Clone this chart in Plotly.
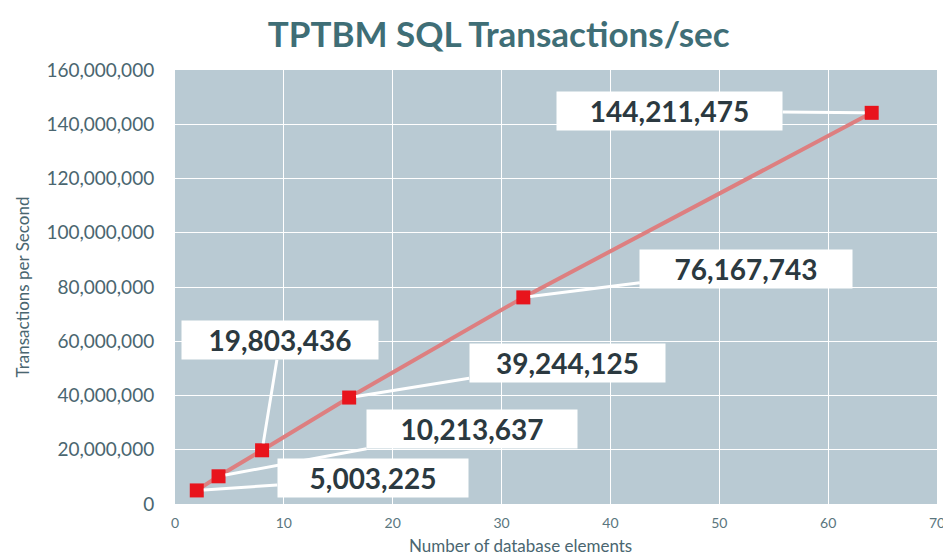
import plotly.graph_objects as go

elements = [2, 4, 8, 16, 32, 64]
tps = [5003225, 10213637, 19803436, 39244125, 76167743, 144211475]
labels = ["5,003,225", "10,213,637", "19,803,436", "39,244,125", "76,167,743", "144,211,475"]
# label offsets (pixels) from each point to its callout box centre, and box widths
label_ax = [176, 253, 18, 218, 223, -202]
label_ay = [-12, -47, -110, -35, -28, -2]
label_w = [182, 202, 188, 187, 204, 217]

fig = go.Figure()
fig.add_trace(go.Scatter(
    x=elements, y=tps, mode="lines+markers",
    line=dict(color="#dd7f80", width=4),
    marker=dict(symbol="square", size=14, color="#e8141c", line=dict(width=0)),
    hoverinfo="skip", showlegend=False,
))

for x, y, t, ax, ay, w in zip(elements, tps, labels, label_ax, label_ay, label_w):
    fig.add_annotation(
        x=x, y=y, text="<b>" + t + "</b>",
        ax=ax, ay=ay, axref="pixel", ayref="pixel",
        showarrow=True, arrowhead=0, arrowwidth=3, arrowcolor="white", standoff=7,
        bgcolor="white", borderpad=4, width=w, height=30,
        font=dict(family="Lato, Open Sans, sans-serif", size=28, color="#2b3940"),
    )

fig.add_annotation(
    text="Number of database elements", xref="paper", yref="paper",
    x=0.454, y=0, xanchor="center", yanchor="middle", yshift=-41, showarrow=False,
    font=dict(family="Lato, sans-serif", size=17, color="#4a6670"),
)

fig.update_layout(
    width=951, height=556,
    margin=dict(l=167, r=22, t=62, b=60),
    paper_bgcolor="white", plot_bgcolor="#b9cad3",
    title=dict(text="<b>TPTBM SQL Transactions/sec</b>", x=0.516, xanchor="center",
               y=0.951, yanchor="middle",
               font=dict(family="Lato, Open Sans, sans-serif", size=35, color="#3f6e76")),
    xaxis=dict(range=[0, 70], dtick=10, showgrid=True, gridcolor="white", gridwidth=1,
               zeroline=False, showline=False, ticks="outside", ticklen=6,
               tickcolor="rgba(0,0,0,0)",
               tickfont=dict(family="Lato, sans-serif", size=14, color="#5a767e")),
    yaxis=dict(range=[0, 160000000], dtick=20000000, tickformat=",d",
               showgrid=True, gridcolor="white", gridwidth=1,
               zeroline=False, showline=False, ticks="outside", ticklen=16,
               tickcolor="rgba(0,0,0,0)",
               tickfont=dict(family="Lato, sans-serif", size=19, color="#4a6670"),
               title=dict(text="Transactions per Second", standoff=12,
                          font=dict(family="Lato, sans-serif", size=17, color="#4a6670"))),
)

fig.write_html("out.html")
